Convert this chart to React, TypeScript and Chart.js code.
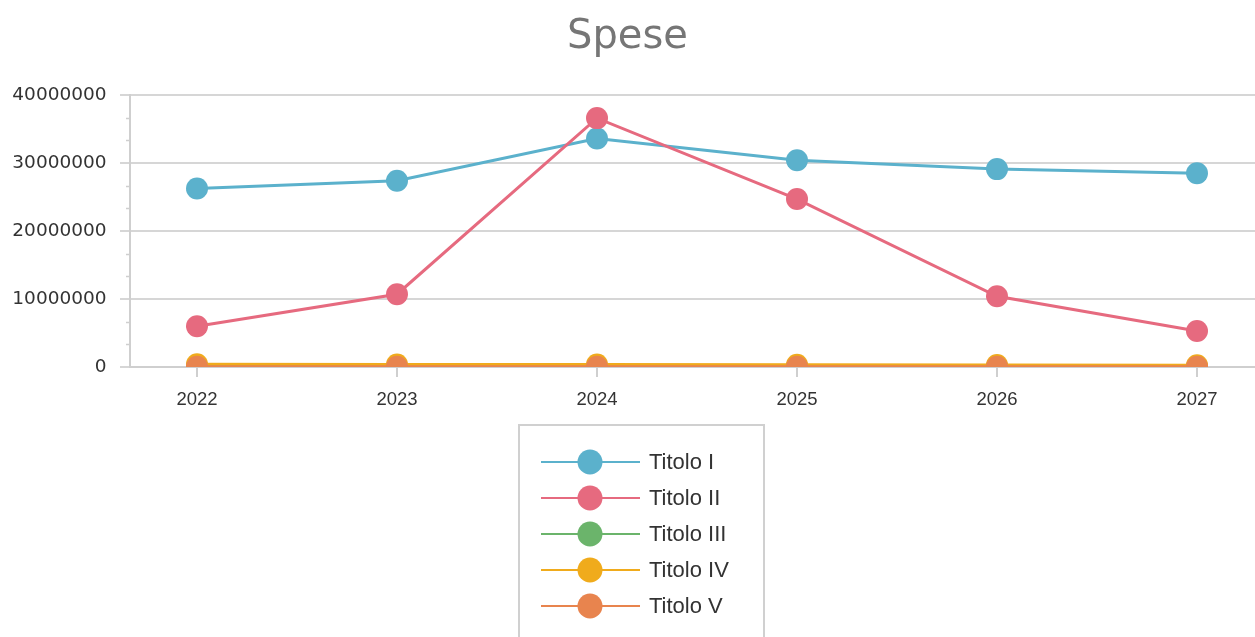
import React, { useEffect, useRef } from 'react';
import { Chart, registerables } from 'chart.js';

Chart.register(...registerables);

const chartTitle = 'Spese';
const categories = ['2022', '2023', '2024', '2025', '2026', '2027'];
const seriesNames = ['Titolo I', 'Titolo II', 'Titolo III', 'Titolo IV', 'Titolo V'];
const titolo1 = [26250000, 27400000, 33600000, 30400000, 29100000, 28500000];
const titolo2 = [6000000, 10700000, 36600000, 24700000, 10400000, 5300000];
const titolo3 = [60000, 50000, 40000, 40000, 30000, 20000];
const titolo4 = [400000, 380000, 350000, 320000, 300000, 250000];
const titolo5 = [50000, 45000, 40000, 35000, 30000, 25000];
const seriesColors = ['#5bb1cc', '#e66a7f', '#6bb46b', '#f0ab1c', '#e8844e'];
const yMin = 0;
const yMax = 40000000;
const yStep = 10000000;
const yMinorStep = 10000000 / 3;

const seriesValues = [titolo1, titolo2, titolo3, titolo4, titolo5];

const minorTicksPlugin = {
  id: 'minorTicks',
  afterDraw(chart: any) {
    const ys = chart.scales.y;
    const ctx = chart.ctx;
    const left = chart.chartArea.left;
    ctx.save();
    ctx.strokeStyle = '#cfcfcf';
    ctx.lineWidth = 1.5;
    for (let k = 1; k * yMinorStep < yMax; k++) {
      if (k % 3 === 0) continue;
      const py = Math.round(ys.getPixelForValue(k * yMinorStep)) + 0.5;
      ctx.beginPath();
      ctx.moveTo(left - 4, py);
      ctx.lineTo(left, py);
      ctx.stroke();
    }
    ctx.restore();
  },
};

const boxLegendPlugin = {
  id: 'boxLegend',
  afterDraw(chart: any) {
    const ctx = chart.ctx;
    const left = 519;
    const top = 425;
    const width = 245;
    const height = 240;
    ctx.save();
    ctx.strokeStyle = '#d0d0d0';
    ctx.lineWidth = 2;
    ctx.strokeRect(left, top, width, height);
    chart.data.datasets.forEach((ds: any, i: number) => {
      const cy = 462 + i * 36;
      ctx.strokeStyle = ds.borderColor;
      ctx.lineWidth = 2;
      ctx.beginPath();
      ctx.moveTo(541, cy);
      ctx.lineTo(640, cy);
      ctx.stroke();
      ctx.fillStyle = ds.pointBackgroundColor;
      ctx.beginPath();
      ctx.arc(590, cy, 12.5, 0, Math.PI * 2);
      ctx.fill();
      ctx.fillStyle = '#333333';
      ctx.font = '22px "Liberation Sans", Arial, sans-serif';
      ctx.textBaseline = 'middle';
      ctx.textAlign = 'left';
      ctx.fillText(ds.label, 649, cy + 1);
    });
    ctx.restore();
  },
};

export default function App() {
  const canvasRef = useRef<HTMLCanvasElement | null>(null);

  useEffect(() => {
    if (!canvasRef.current) return;
    const datasets = seriesNames.map((name, i) => ({
      label: name,
      data: seriesValues[i].map((v, j) => ({ x: j, y: v })),
      borderColor: seriesColors[i],
      backgroundColor: seriesColors[i],
      pointBackgroundColor: seriesColors[i],
      pointBorderColor: seriesColors[i],
      pointBorderWidth: 0,
      pointRadius: 11,
      pointHoverRadius: 11,
      borderWidth: 3,
      tension: 0,
      order: seriesNames.length - i,
    }));

    const chart = new Chart(canvasRef.current, {
      type: 'line',
      data: { datasets },
      options: {
        animation: false,
        responsive: true,
        maintainAspectRatio: false,
        layout: { autoPadding: false, padding: { left: 0, right: 0, top: 0, bottom: 230 } },
        plugins: {
          legend: { display: false },
          tooltip: { enabled: false },
          title: {
            display: true,
            text: chartTitle,
            color: '#767676',
            font: { family: '"DejaVu Sans", sans-serif', size: 40, weight: 'normal' },
            padding: { top: 14, bottom: 33 },
          },
        },
        scales: {
          x: {
            type: 'linear',
            min: -0.335,
            max: 5.29,
            afterBuildTicks: (scale: any) => {
              scale.ticks = categories.map((_, i) => ({ value: i }));
            },
            afterFit: (scale: any) => {
              scale.height = 40;
              scale.paddingLeft = 0;
              scale.paddingRight = 0;
            },
            grid: {
              drawOnChartArea: false,
              drawTicks: true,
              tickLength: 10,
              color: '#cfcfcf',
              lineWidth: 2,
            },
            border: { display: true, color: '#cfcfcf', width: 2 },
            ticks: {
              autoSkip: false,
              maxRotation: 0,
              padding: 12,
              color: '#333333',
              font: { family: '"Liberation Sans", Arial, sans-serif', size: 18.5 },
              callback: (v: any) => categories[Math.round(Number(v))] ?? '',
            },
          },
          y: {
            type: 'linear',
            min: yMin,
            max: yMax,
            afterFit: (scale: any) => {
              scale.width = 130;
            },
            grid: {
              color: '#d6d6d6',
              lineWidth: 2,
              tickLength: 10,
            },
            border: { display: true, color: '#cfcfcf', width: 2 },
            ticks: {
              stepSize: yStep,
              padding: 13.5,
              color: '#333333',
              font: { family: '"DejaVu Sans", sans-serif', size: 18.5 },
              callback: (v: any) => String(v),
            },
          },
        },
      },
      plugins: [minorTicksPlugin, boxLegendPlugin],
    });
    return () => chart.destroy();
  }, []);

  return (
    <div style={{ position: 'fixed', left: 0, top: 0, width: 1255, height: 637, background: '#ffffff' }}>
      <canvas ref={canvasRef} />
    </div>
  );
}
